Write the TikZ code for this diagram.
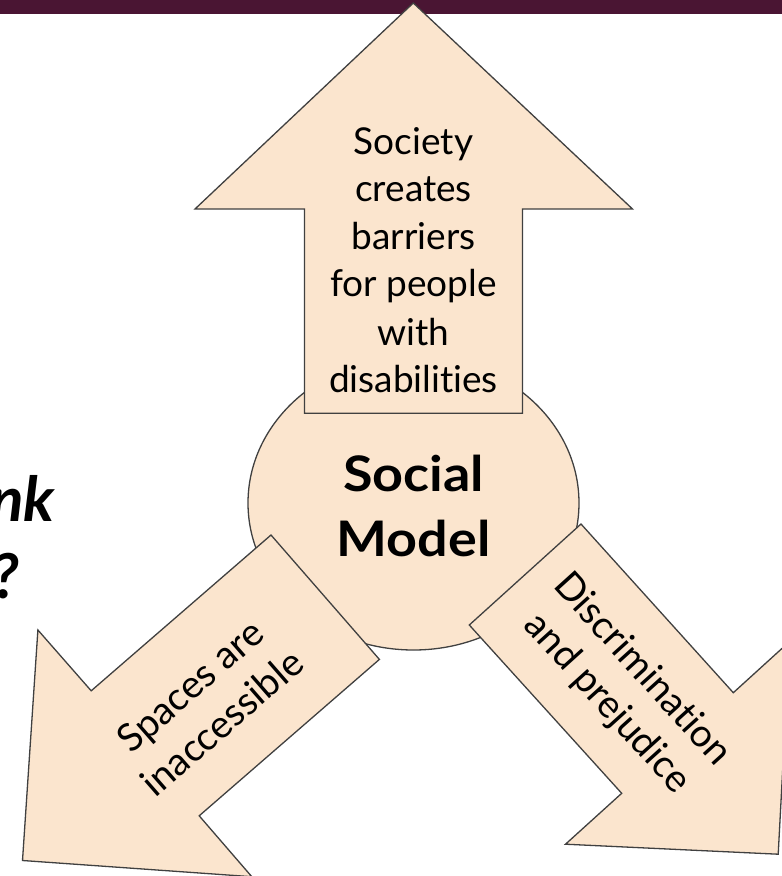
\documentclass[tikz,border=0pt]{standalone}
\usepackage{graphicx}
\usepackage{fontspec}
\setmainfont{Lato}[Ligatures=NoCommon]
\definecolor{peach}{HTML}{FBE5CE}
\definecolor{edgegray}{HTML}{404040}
\definecolor{topbar}{HTML}{4A1533}
\begin{document}
\begin{tikzpicture}[x=1pt,y=-1pt,
  shapeout/.style={fill=peach,draw=edgegray,line width=1.3pt,line join=miter},
  lbl/.style={font=\fontsize{37}{46}\selectfont,text=black,inner sep=0pt,anchor=base},
  rlbl/.style={font=\fontsize{38.5}{46}\selectfont,text=black,inner sep=0pt,anchor=base},
  bigl/.style={font=\fontsize{49}{60}\selectfont\bfseries,text=black,inner sep=0pt,anchor=base},
  sidel/.style={font=\fontsize{62}{70}\selectfont\bfseries\itshape,text=black,inner sep=0pt,anchor=base east}]
\useasboundingbox (0,0) rectangle (782,876);
\clip (0,0) rectangle (782,876);
% top bar
\fill[topbar] (0,0) rectangle (782,14);
% partial question text at left edge
\node[sidel] (qa) at (55,521.7) {nk};
\node[sidel] (qb) at (19,598.3) {?};
% central ellipse
\draw[shapeout] (413.5,503) ellipse [x radius=165.5, y radius=147];
% up arrow
\draw[shapeout] (413.3,3) -- (632.5,209) -- (522.5,209) -- (522.5,413.3) -- (304.5,413.3) -- (304.5,209) -- (195,209) -- cycle;
% left-down arrow
\draw[shapeout] (22.5,860.5) -- (37.9,630) -- (91.2,690.8) -- (271,535) -- (379.4,659.4) -- (199.2,815.8) -- (251.8,876.7) -- cycle;
% right-down arrow
\draw[shapeout] (778.2,854.2) -- (565.5,844.2) -- (621.7,793.3) -- (469.3,625) -- (581,524) -- (733.3,692.7) -- (789.5,641.6) -- cycle;
% texts
\node[lbl] (u1) at (413.5,154.3) {Society};
\node[lbl] (u2) at (413.5,201.7) {creates};
\node[lbl] (u3) at (413.5,249.3) {barriers};
\node[lbl] (u4) at (413.5,296.7) {for people};
\node[lbl] (u5) at (413.5,345) {with};
\node[lbl] (u6) at (413.5,392.7) {disabilities};
\node[bigl] (m1) at (413.5,491.7) {\scalebox{1.1}[1]{Social}};
\node[bigl] (m2) at (413.5,556.7) {\scalebox{1.1}[1]{Model}};
\node[rlbl,rotate=41.1] (l1) at (199,696) {Spaces are};
\node[rlbl,rotate=41.1] (l2) at (231,733) {inaccessible};
\node[rlbl,rotate=-47.9] (r1) at (634,677) {Discrimination};
\node[rlbl,rotate=-47.9] (r2) at (599,711) {and prejudice};
\end{tikzpicture}
\end{document}
